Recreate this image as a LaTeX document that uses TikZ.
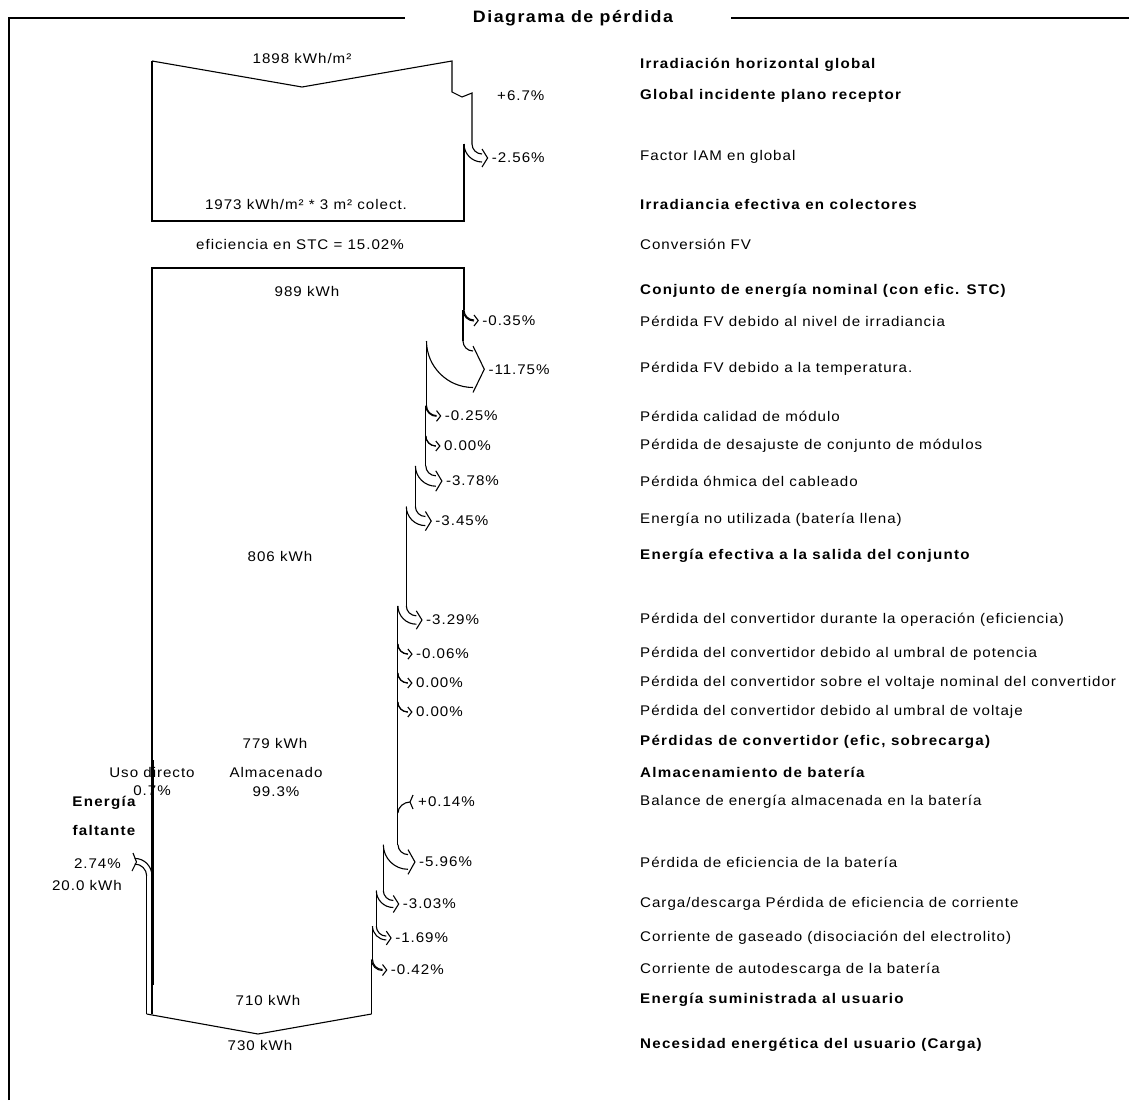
\documentclass[tikz,border=0pt]{standalone}
\usepackage{fontspec}
\setmainfont{Liberation Sans}[FakeStretch=1.08,LetterSpace=7]
\newfontfamily\boldsans{Liberation Sans Bold}[FakeStretch=1.08,LetterSpace=9]

% loss hook: outer x, top y, width, name, label
\newcommand{\losshook}[5]{%
  \pgfmathsetmacro\hxe{#1+10}
  \pgfmathsetmacro\hxi{#1-#3}
  \pgfmathsetmacro\hym{#2+10+#3/2}
  \pgfmathsetmacro\hyo{#2+10}
  \pgfmathsetmacro\hyi{#2+10+#3}
  \pgfmathsetmacro\hri{0.55*(10+#3)}
  \pgfmathsetmacro\hh{#3/2+5}
  \pgfmathsetmacro\htip{\hxe+4+#3/5}
  \draw[flow] (#1,#2) .. controls (#1,#2+5.5) and (\hxe-5.5,\hyo) .. (\hxe,\hyo);
  \draw[flow] (\hxi,#2) .. controls (\hxi,#2+\hri) and (\hxe-\hri,\hyi) .. (\hxe,\hyi);
  \draw[flow] (\hxe,\hym-\hh) -- (\htip,\hym) -- (\hxe,\hym+\hh);
  \node[pct,anchor=west] (#4) at (\htip+4,\hym) {#5};
}

\begin{document}
\begin{tikzpicture}[x=1pt,y=-1pt,
    flow/.style={line width=1.1pt},
    frame/.style={line width=1.3pt},
    txt/.style={font=\fontsize{14}{16}\selectfont,inner sep=0pt},
    btxt/.style={font=\fontsize{14}{16}\selectfont\boldsans,inner sep=0pt},
    pct/.style={txt},
    desc/.style={txt,anchor=west},
    bdesc/.style={btxt,anchor=west}]

\useasboundingbox (0,0) rectangle (1129,1100);

% frame and title
\node[font=\fontsize{16.5}{18}\selectfont\boldsans] (title) at (573,18) {Diagrama de pérdida};
\draw[frame] (9,1100) -- (9,18) -- (405,18);
\draw[frame] (731,18) -- (1129,18);

% irradiation
\draw[flow] (152,61) -- (302,87) -- (452,61) -- (452,92) -- (462,97) -- (472,93) -- (472,144);
\draw[flow] (464,144) -- (464,221) -- (152,221) -- (152,61);
\losshook{472}{144}{8}{iam}{-2.56\%}
\node[pct,anchor=west] (gain) at (497,96) {+6.7\%};

\node[txt] (hglob) at (302,58) {1898 kWh/m²};
\node[txt] (coll) at (306,204) {1973 kWh/m² * 3 m² colect.};
\node[txt] (stc) at (300,244) {eficiencia en STC = 15.02\%};

% array
\draw[flow] (464,310) -- (464,268) -- (152,268) -- (152,1014);
\losshook{464}{310}{1}{irr}{-0.35\%}
\draw[flow] (463,310) -- (463,341);
\losshook{463}{341}{36.5}{temp}{-11.75\%}
\draw[flow] (426.5,341) -- (426.5,405.6);
\losshook{426.5}{405.6}{0.7}{qual}{-0.25\%}
\draw[flow] (425.8,405.6) -- (425.8,465.8);
\losshook{425.8}{436}{0}{mism}{0.00\%}
\losshook{425.8}{465.8}{10.4}{ohm}{-3.78\%}
\draw[flow] (415.4,465.8) -- (415.4,506.5);
\losshook{415.4}{506.5}{9.1}{full}{-3.45\%}
\draw[flow] (406.3,506.5) -- (406.3,605.8);
\losshook{406.3}{605.8}{8.4}{conv}{-3.29\%}
\draw[flow] (397.9,605.8) -- (397.9,844.6);
\losshook{397.9}{644}{0.15}{pthr}{-0.06\%}
\losshook{397.8}{673}{0}{vnom}{0.00\%}
\losshook{397.8}{702}{0}{vthr}{0.00\%}

\node[txt] (earr) at (307,291) {989 kWh};
\node[txt] (eout) at (280,556) {806 kWh};
\node[txt] (econv) at (275,743) {779 kWh};

% battery
\node[txt] (direct) at (152,772) {Uso directo};
\node[txt] (directp) at (152,791) {0.7\%};
\node[txt] (stored) at (276,772) {Almacenado};
\node[txt] (storedp) at (276,792) {99.3\%};
\draw[flow] (153.8,760) -- (153.8,985);

\draw[flow] (397.9,813) .. controls (397.9,807) and (404,802) .. (410,802);
\draw[flow] (413,795) -- (410,802) -- (413,809);
\node[pct,anchor=west] (bal) at (418,802) {+0.14\%};

\losshook{398}{844.6}{14.7}{beff}{-5.96\%}
\draw[flow] (383.3,844.6) -- (383.3,890.5);
\losshook{383.3}{890.5}{7}{curr}{-3.03\%}
\draw[flow] (376.3,890.5) -- (376.3,926.1);
\losshook{376.3}{926.1}{3.8}{gas}{-1.69\%}
\draw[flow] (372.5,926.1) -- (372.5,959.5);
\losshook{372.5}{959.5}{1}{self}{-0.42\%}
\draw[flow] (371.5,959.5) -- (371.5,1014);

% missing energy
\draw[flow] (152,876) .. controls (152,866.3) and (144.4,858.4) .. (134.7,858.4);
\draw[flow] (146.7,876) .. controls (146.7,869.4) and (141.3,864) .. (134.7,864);
\draw[flow] (133,853) -- (136.5,862) -- (132,871);
\draw[flow] (146.7,876) -- (146.7,1014);
\node[btxt] (miss1) at (104,803) {Energía};
\node[btxt] (miss2) at (104,830) {faltante};
\node[pct,anchor=east] (missp) at (121,864) {2.74\%};
\node[pct,anchor=east] (misse) at (122,885) {20.0 kWh};

% user
\draw[flow] (146.7,1014) -- (258,1034) -- (371.5,1014);
\node[txt] (euser) at (268,1000) {710 kWh};
\node[txt] (eload) at (260,1045) {730 kWh};

% descriptions
\node[bdesc] (d1) at (640,65) {Irradiación horizontal global};
\node[bdesc] (d2) at (640,96) {Global incidente plano receptor};
\node[desc] (d3) at (640,157) {Factor IAM en global};
\node[bdesc] (d4) at (640,204) {Irradiancia efectiva en colectores};
\node[desc] (d5) at (640,244) {Conversión FV};
\node[bdesc] (d6) at (640,291) {Conjunto de energía nominal (con efic. STC)};
\node[desc] (d7) at (640,321) {Pérdida FV debido al nivel de irradiancia};
\node[desc] (d8) at (640,369) {Pérdida FV debido a la temperatura.};
\node[desc] (d9) at (640,416) {Pérdida calidad de módulo};
\node[desc] (d10) at (640,446) {Pérdida de desajuste de conjunto de módulos};
\node[desc] (d11) at (640,481) {Pérdida óhmica del cableado};
\node[desc] (d12) at (640,520) {Energía no utilizada (batería llena)};
\node[bdesc] (d13) at (640,556) {Energía efectiva a la salida del conjunto};
\node[desc] (d14) at (640,620) {Pérdida del convertidor durante la operación (eficiencia)};
\node[desc] (d15) at (640,654) {Pérdida del convertidor debido al umbral de potencia};
\node[desc] (d16) at (640,683) {Pérdida del convertidor sobre el voltaje nominal del convertidor};
\node[desc] (d17) at (640,712) {Pérdida del convertidor debido al umbral de voltaje};
\node[bdesc] (d18) at (640,742) {Pérdidas de convertidor (efic, sobrecarga)};
\node[bdesc] (d19) at (640,772) {Almacenamiento de batería};
\node[desc] (d20) at (640,802) {Balance de energía almacenada en la batería};
\node[desc] (d21) at (640,862) {Pérdida de eficiencia de la batería};
\node[desc] (d22) at (640,904) {Carga/descarga Pérdida de eficiencia de corriente};
\node[desc] (d23) at (640,938) {Corriente de gaseado (disociación del electrolito)};
\node[desc] (d24) at (640,970) {Corriente de autodescarga de la batería};
\node[bdesc] (d25) at (640,1000) {Energía suministrada al usuario};
\node[bdesc] (d26) at (640,1045) {Necesidad energética del usuario (Carga)};

\end{tikzpicture}
\end{document}
